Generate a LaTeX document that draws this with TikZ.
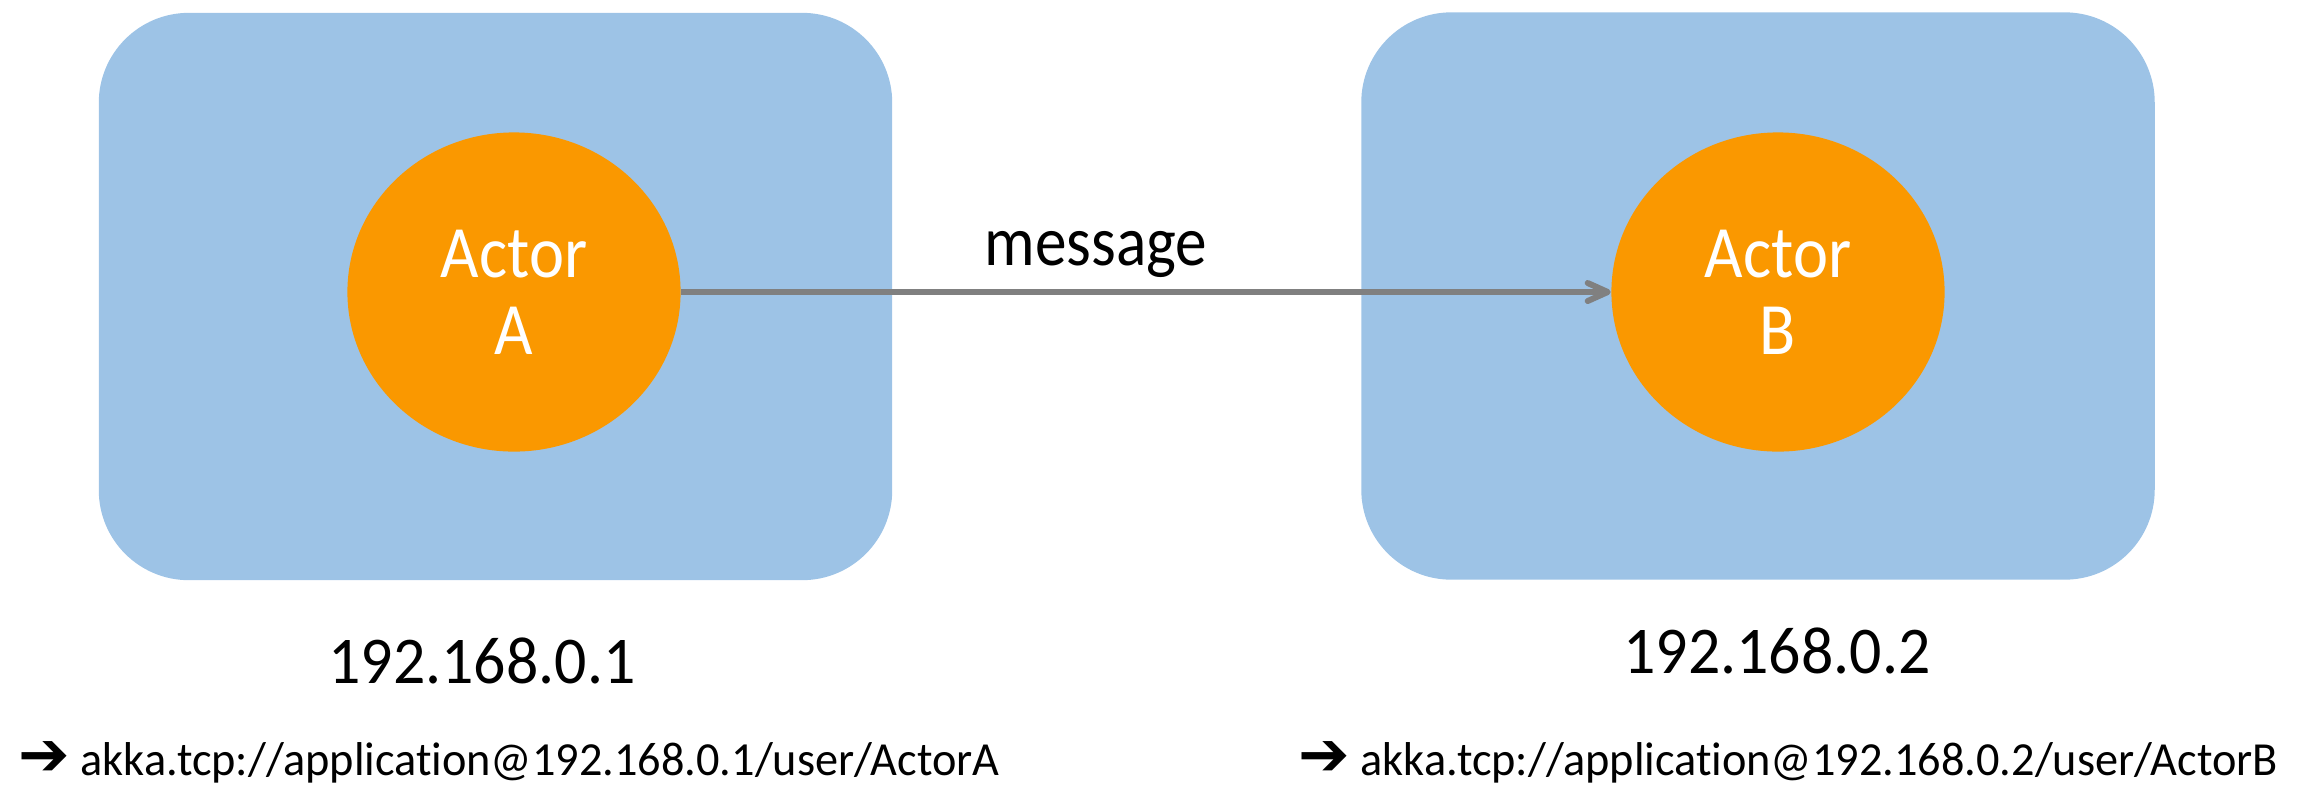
\documentclass[tikz,border=0pt]{standalone}
\usepackage{fontspec}
\setmainfont[Ligatures=NoCommon]{Carlito}
\newfontfamily\actorfont[Ligatures=NoCommon,FakeStretch=0.9]{Carlito}
\newfontfamily\ipfont[Ligatures=NoCommon,FakeStretch=0.955]{Carlito}
\newfontfamily\pathfont[Ligatures=NoCommon,FakeStretch=0.975]{Carlito}
\newfontfamily\arrowfont{DejaVu Sans}
\usepackage{xcolor}
\usetikzlibrary{arrows.meta,shapes.geometric}

\definecolor{hostblue}{RGB}{157,195,230}
\definecolor{actororange}{RGB}{250,152,0}
\definecolor{linkgray}{RGB}{128,128,128}

\begin{document}
\begin{tikzpicture}[x=0.01cm,y=-0.01cm,
  host/.style={fill=hostblue,rounded corners=0.9cm,minimum width=7.93cm,
               minimum height=5.67cm,inner sep=0pt},
  actor/.style={ellipse,fill=actororange,minimum width=3.33cm,
                minimum height=3.19cm,inner sep=0pt,align=center,
                text=white,font=\actorfont\fontsize{21}{22}\selectfont},
  hostip/.style={anchor=base,inner sep=0pt,font=\ipfont\fontsize{19}{22}\selectfont},
  actorpath/.style={anchor=base west,inner sep=0pt,
                    font=\pathfont\fontsize{13.5}{16}\selectfont},
  arr/.style={-{Straight Barb[length=2mm,width=1.8mm,round]},line width=1.7pt,
              draw=linkgray}]

  \useasboundingbox (0,0) rectangle (2318,790);

  \node[host] (hostA) at (495.5,296.5) {};
  \node[host] (hostB) at (1758,296)    {};

  \node[actor] (actA) at (514,292)  {Actor\\A};
  \node[actor] (actB) at (1778,292) {Actor\\B};

  \draw[arr] (actA.east) -- (actB.west);
  \node[anchor=base,inner sep=0pt,font=\actorfont\fontsize{20}{24}\selectfont] (msg)
    at (1096,265) {message};

  \node[hostip] (ipA) at (482,683)  {192.168.0.1};
  \node[hostip] (ipB) at (1777,673) {192.168.0.2};

  \node[actorpath] (pathA) at (18,775)
    {{\arrowfont\fontsize{17.5}{16}\selectfont ➔}~akka.tcp://application@192.168.0.1/user/ActorA};
  \node[actorpath] (pathB) at (1298,775)
    {{\arrowfont\fontsize{17.5}{16}\selectfont ➔}~akka.tcp://application@192.168.0.2/user/ActorB};

\end{tikzpicture}
\end{document}
